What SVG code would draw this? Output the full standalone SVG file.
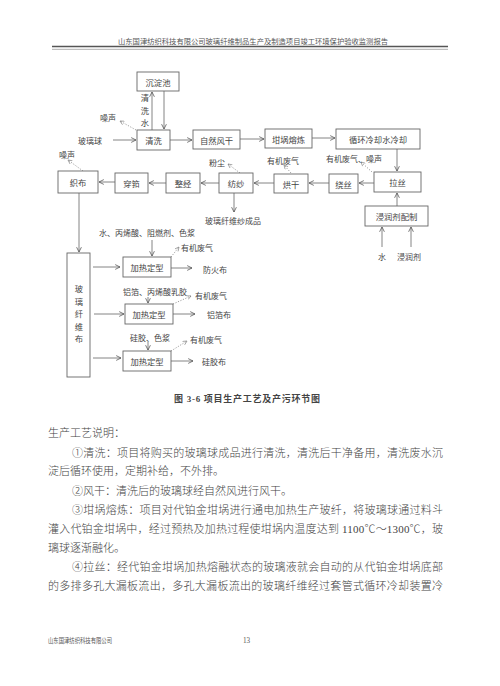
<svg xmlns="http://www.w3.org/2000/svg" width="500" height="686" viewBox="0 0 500 686">
<defs>
<marker id="ah" viewBox="0 0 10 10" refX="9" refY="5" markerWidth="6" markerHeight="6" orient="auto" markerUnits="userSpaceOnUse">
<polyline points="1,1 9,5 1,9" fill="none" stroke="#555" stroke-width="1.3"/>
</marker>
<marker id="dh" viewBox="0 0 10 10" refX="9" refY="5" markerWidth="5" markerHeight="5" orient="auto" markerUnits="userSpaceOnUse">
<polyline points="1,1 9,5 1,9" fill="none" stroke="#777" stroke-width="1.2"/>
</marker>
<style>
.bx{fill:#fff;stroke:#666;stroke-width:0.9}
.t{font-family:"Noto Sans CJK SC","Noto Sans",sans-serif;font-size:8.3px;fill:#444;text-anchor:middle;dominant-baseline:central}
.l{font-family:"Noto Sans CJK SC","Noto Sans",sans-serif;font-size:8px;fill:#444;dominant-baseline:central}
.c{fill:none;stroke:#666;stroke-width:0.8;marker-end:url(#ah)}
.d{fill:none;stroke:#888;stroke-width:0.8;stroke-dasharray:1.2,1.5;marker-end:url(#dh)}
.b{font-family:"Liberation Serif","Noto Sans CJK SC",serif;font-size:11px;fill:#444;font-weight:300;dominant-baseline:central}
.h{font-family:"Liberation Serif","Noto Sans CJK SC",serif;font-size:7.2px;fill:#555;dominant-baseline:central}
</style>
</defs>
<rect width="500" height="686" fill="#fff"/>

<!-- header -->
<text class="h" x="118" y="42" textLength="270" lengthAdjust="spacingAndGlyphs">山东国津纺织科技有限公司玻璃纤维制品生产及制造项目竣工环境保护验收监测报告</text>
<line x1="52" y1="46.5" x2="448" y2="46.5" stroke="#555" stroke-width="1.6"/>
<line x1="52" y1="49.3" x2="448" y2="49.3" stroke="#777" stroke-width="0.6"/>

<!-- connectors -->
<g id="connectors">
<path class="c" d="M152,130 V92"/>
<path class="c" d="M164,91 V129"/>
<path class="c" d="M113,140 H136"/>
<path class="c" d="M170,140 H192"/>
<path class="c" d="M240,139 H264"/>
<path class="c" d="M312,138 H335"/>
<path class="c" d="M397,149 V171"/>
<path class="c" d="M374,183 H359"/>
<path class="c" d="M329,183 H309"/>
<path class="c" d="M274,183 H254"/>
<path class="c" d="M219,183 H201"/>
<path class="c" d="M166,183 H149"/>
<path class="c" d="M115,182 H99"/>
<path class="c" d="M234,193 V212"/>
<path class="c" d="M397,206 V193"/>
<path class="c" d="M382,247 V227"/>
<path class="c" d="M411,247 V227"/>
<path class="c" d="M79,193 V252"/>
<path class="c" d="M152,240 V256"/>
<path class="c" d="M148,297 V303"/>
<path class="c" d="M148,342 V350"/>
<path class="c" d="M93,267 H120"/>
<path class="c" d="M94,314 H124"/>
<path class="c" d="M93,358 H121"/>
<path class="c" d="M171,268 H192"/>
<path class="c" d="M173,314 H195"/>
<path class="c" d="M171,361 H193"/>
<path class="d" d="M136,130 L120,121"/>
<path class="d" d="M83,171 L68,160"/>
<path class="d" d="M240,173 L228,164"/>
<path class="d" d="M291,173 L284,165"/>
<path class="d" d="M372,172 L361,162"/>
<path class="d" d="M171,257 L179,247"/>
<path class="d" d="M173,304 L191,296"/>
<path class="d" d="M171,351 L187,341"/>
</g>

<!-- nodes -->
<g id="n-chendianchi"><rect class="bx" x="137" y="72" width="42" height="19"/><text class="t" x="158" y="81.5">沉淀池</text></g>
<g id="n-qingxi"><rect class="bx" x="137" y="130" width="33" height="20"/><text class="t" x="153.5" y="140">清洗</text></g>
<g id="n-fenggan"><rect class="bx" x="193" y="130" width="47" height="19"/><text class="t" x="216.5" y="139.5">自然风干</text></g>
<g id="n-ronglian"><rect class="bx" x="265" y="129" width="47" height="19"/><text class="t" x="288.5" y="138.5">坩埚熔炼</text></g>
<g id="n-lengque"><rect class="bx" x="336" y="129" width="84" height="20"/><text class="t" x="378" y="139">循环冷却水冷却</text></g>
<g id="n-lasi"><rect class="bx" x="374" y="172" width="47" height="20"/><text class="t" x="397.5" y="182">拉丝</text></g>
<g id="n-raosi"><rect class="bx" x="329" y="174" width="29" height="19"/><text class="t" x="343.5" y="183.5">绕丝</text></g>
<g id="n-honggan"><rect class="bx" x="274" y="174" width="34" height="19"/><text class="t" x="291" y="183.5">烘干</text></g>
<g id="n-fangsha"><rect class="bx" x="219" y="173" width="34" height="20"/><text class="t" x="236" y="183">纺纱</text></g>
<g id="n-zhengjing"><rect class="bx" x="166" y="173" width="34" height="20"/><text class="t" x="183" y="183">整经</text></g>
<g id="n-chuankou"><rect class="bx" x="115" y="173" width="33" height="20"/><text class="t" x="131.5" y="183">穿筘</text></g>
<g id="n-zhibu"><rect class="bx" x="58" y="171" width="40" height="22"/><text class="t" x="78" y="182">织布</text></g>
<g id="n-jinrunji"><rect class="bx" x="365" y="206" width="63" height="20"/><text class="t" x="396.5" y="216">浸润剂配制</text></g>
<g id="n-boxianbu"><rect class="bx" x="67" y="253" width="23" height="124"/>
<text class="t" x="79" y="288">玻</text><text class="t" x="79" y="300.5">璃</text><text class="t" x="79" y="313">纤</text><text class="t" x="79" y="325.5">维</text><text class="t" x="79" y="338">布</text></g>
<g id="n-dingxing1"><rect class="bx" x="123" y="257" width="48" height="20"/><text class="t" x="147" y="267">加热定型</text></g>
<g id="n-dingxing2"><rect class="bx" x="125" y="304" width="48" height="20"/><text class="t" x="149" y="314">加热定型</text></g>
<g id="n-dingxing3"><rect class="bx" x="123" y="351" width="48" height="20"/><text class="t" x="147" y="361">加热定型</text></g>

<!-- labels -->
<g id="labels">
<text class="t" x="145" y="97">清</text><text class="t" x="145" y="110">洗</text><text class="t" x="145" y="122">水</text>
<text class="l" x="100" y="117">噪声</text>
<text class="l" x="78" y="140">玻璃球</text>
<text class="l" x="59" y="154">噪声</text>
<text class="l" x="209" y="162">粉尘</text>
<text class="l" x="267" y="160">有机废气</text>
<text class="l" x="326" y="158">有机废气、噪声</text>
<text class="l" x="205" y="220">玻璃纤维纱成品</text>
<text class="l" x="378" y="256">水</text>
<text class="l" x="397" y="256">浸润剂</text>
<text class="l" x="99" y="232">水、丙烯酸、阻燃剂、色浆</text>
<text class="l" x="181" y="247">有机废气</text>
<text class="l" x="203" y="269">防火布</text>
<text class="l" x="123" y="291">铝箔、丙烯酸乳胶</text>
<text class="l" x="195" y="295">有机废气</text>
<text class="l" x="207" y="314">铝箔布</text>
<text class="l" x="130" y="337">硅胶、色浆</text>
<text class="l" x="190" y="339">有机废气</text>
<text class="l" x="202" y="361">硅胶布</text>
</g>

<!-- caption and body text -->
<text x="247" y="399" text-anchor="middle" dominant-baseline="central" font-family="Liberation Serif, Noto Sans CJK SC, serif" font-size="9" font-weight="bold" fill="#444" textLength="146" lengthAdjust="spacing">图 3-6  项目生产工艺及产污环节图</text>
<text class="b" x="48" y="433">生产工艺说明：</text>
<text class="b" x="72" y="453" textLength="371" lengthAdjust="spacing">①清洗：项目将购买的玻璃球成品进行清洗，清洗后干净备用，清洗废水沉</text>
<text class="b" x="48" y="471">淀后循环使用，定期补给，不外排。</text>
<text class="b" x="72" y="491">②风干：清洗后的玻璃球经自然风进行风干。</text>
<text class="b" x="72" y="510" textLength="371" lengthAdjust="spacing">③坩埚熔炼：项目对代铂金坩埚进行通电加热生产玻纤，将玻璃球通过料斗</text>
<text class="b" x="48" y="529" textLength="395" lengthAdjust="spacing">灌入代铂金坩埚中，经过预热及加热过程使坩埚内温度达到 1100℃～1300℃，玻</text>
<text class="b" x="48" y="548">璃球逐渐融化。</text>
<text class="b" x="72" y="567" textLength="371" lengthAdjust="spacing">④拉丝：经代铂金坩埚加热熔融状态的玻璃液就会自动的从代铂金坩埚底部</text>
<text class="b" x="48" y="586" textLength="395" lengthAdjust="spacing">的多排多孔大漏板流出，多孔大漏板流出的玻璃纤维经过套管式循环冷却装置冷</text>
<text class="h" x="48" y="641" font-size="5.6" textLength="64" lengthAdjust="spacingAndGlyphs">山东国津纺织科技有限公司</text>
<text class="h" x="243" y="641" font-size="6">13</text>
</svg>
